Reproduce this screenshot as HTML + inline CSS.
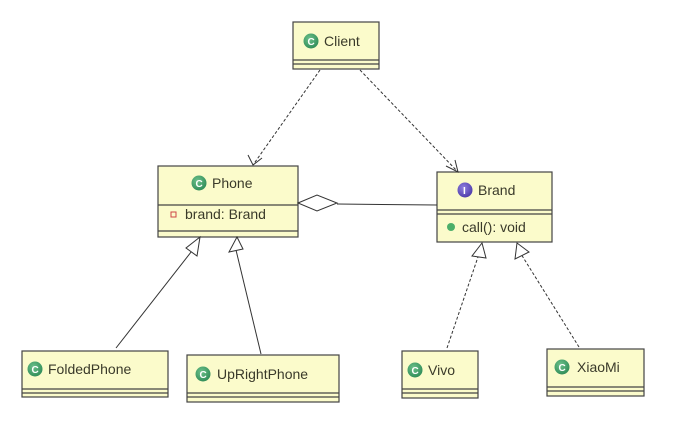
<!DOCTYPE html>
<html><head><style>
body{margin:0;width:677px;height:439px;background:#fff;overflow:hidden;font-family:"Liberation Sans","DejaVu Sans",sans-serif}
</style></head><body>
<svg width="677" height="439" xmlns="http://www.w3.org/2000/svg" font-family="Liberation Sans, DejaVu Sans, sans-serif" font-size="14" fill="#3a3a2a">
<defs>
<radialGradient id="g" cx="40%" cy="35%" r="70%"><stop offset="0" stop-color="#6cc08a"/><stop offset="1" stop-color="#2e8b57"/></radialGradient>
<radialGradient id="p" cx="40%" cy="35%" r="70%"><stop offset="0" stop-color="#8f7fe0"/><stop offset="1" stop-color="#4b3aa8"/></radialGradient>
</defs>
<g stroke="#444" stroke-width="1.2" fill="#fbfbcb">
<rect x="293" y="22" width="86" height="47"/>
<line x1="293" y1="60" x2="379" y2="60"/><line x1="293" y1="64" x2="379" y2="64"/>
<rect x="158" y="166" width="140" height="71"/>
<line x1="158" y1="205" x2="298" y2="205"/><line x1="158" y1="231" x2="298" y2="231"/>
<rect x="437" y="172" width="115" height="70"/>
<line x1="437" y1="210" x2="552" y2="210"/><line x1="437" y1="214" x2="552" y2="214"/>
<rect x="22" y="351" width="146" height="46"/>
<line x1="22" y1="389" x2="168" y2="389"/><line x1="22" y1="393" x2="168" y2="393"/>
<rect x="187" y="355" width="152" height="47"/>
<line x1="187" y1="393" x2="339" y2="393"/><line x1="187" y1="397" x2="339" y2="397"/>
<rect x="402" y="351" width="76" height="47"/>
<line x1="402" y1="389" x2="478" y2="389"/><line x1="402" y1="393" x2="478" y2="393"/>
<rect x="547" y="349" width="97" height="47"/>
<line x1="547" y1="387" x2="644" y2="387"/><line x1="547" y1="391" x2="644" y2="391"/>
</g>
<g stroke="#333" stroke-width="1" fill="none">
<line x1="320" y1="70" x2="253" y2="165" stroke-dasharray="3,2"/>
<polyline points="248,155 253,165 262,158"/>
<line x1="360" y1="70" x2="458" y2="172" stroke-dasharray="3,2"/>
<polyline points="446,166 458,172 455,160"/>
<polygon points="298,203 317,195 337,203 317,211" fill="#fff"/>
<line x1="337" y1="204" x2="437" y2="205"/>
<line x1="116" y1="348" x2="195" y2="247"/>
<polygon points="200,237 186,248 197,256" fill="#fff"/>
<line x1="261" y1="354" x2="236" y2="250"/>
<polygon points="237,237 229,252 243,249" fill="#fff"/>
<line x1="447" y1="348" x2="479" y2="254" stroke-dasharray="3,2"/>
<polygon points="482,243 472,256 486,258" fill="#fff"/>
<line x1="579" y1="347" x2="521" y2="254" stroke-dasharray="3,2"/>
<polygon points="517,243 515,259 529,252" fill="#fff"/>
</g>
<g>
<circle cx="311" cy="41" r="7.5" fill="url(#g)"/><text x="307.5" y="45" font-size="10" font-weight="bold" fill="#fff">C</text>
<text x="324" y="46">Client</text>
<circle cx="199" cy="183" r="7.5" fill="url(#g)"/><text x="195.5" y="187" font-size="10" font-weight="bold" fill="#fff">C</text>
<text x="212" y="188">Phone</text>
<rect x="171" y="212" width="5" height="5" fill="none" stroke="#c44" stroke-width="1"/>
<text x="185" y="219">brand: Brand</text>
<circle cx="465" cy="190" r="7.5" fill="url(#p)"/><text x="463" y="194" font-size="10" font-weight="bold" fill="#fff">I</text>
<text x="478" y="195">Brand</text>
<circle cx="451" cy="227" r="4" fill="#4caf6a"/>
<text x="462" y="232">call(): void</text>
<circle cx="35" cy="369" r="7.5" fill="url(#g)"/><text x="31.5" y="373" font-size="10" font-weight="bold" fill="#fff">C</text>
<text x="48" y="374">FoldedPhone</text>
<circle cx="203" cy="374" r="7.5" fill="url(#g)"/><text x="199.5" y="378" font-size="10" font-weight="bold" fill="#fff">C</text>
<text x="217" y="379">UpRightPhone</text>
<circle cx="415" cy="370" r="7.5" fill="url(#g)"/><text x="411.5" y="374" font-size="10" font-weight="bold" fill="#fff">C</text>
<text x="428" y="375">Vivo</text>
<circle cx="562" cy="367" r="7.5" fill="url(#g)"/><text x="558.5" y="371" font-size="10" font-weight="bold" fill="#fff">C</text>
<text x="577" y="372">XiaoMi</text>
</g>
</svg>
</body></html>
